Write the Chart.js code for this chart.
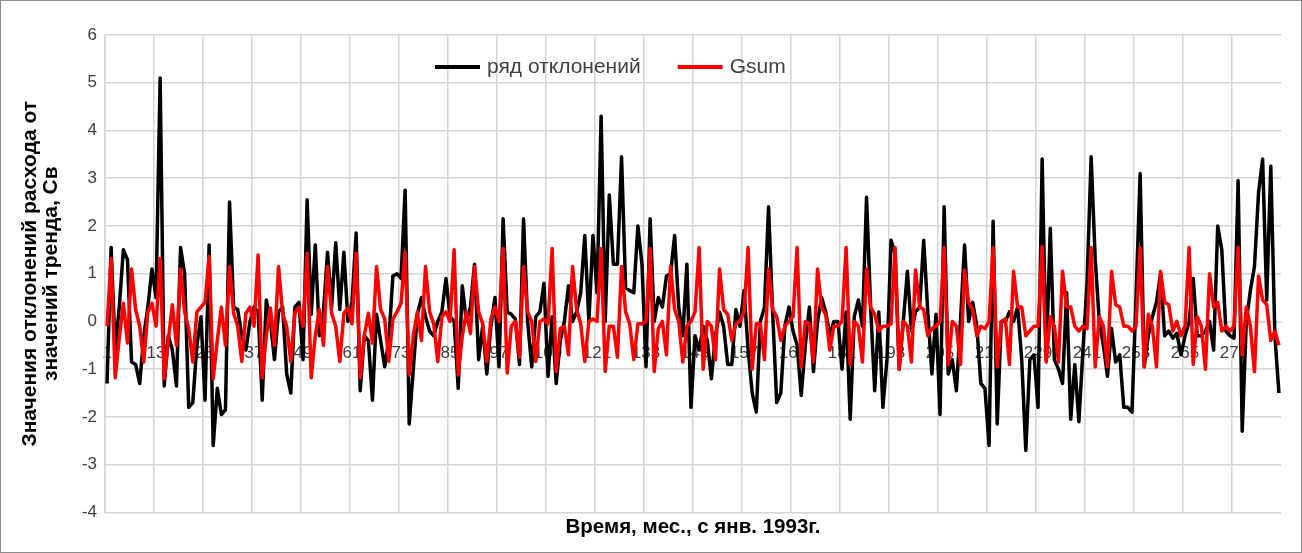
<!DOCTYPE html>
<html lang="ru">
<head>
  <meta charset="UTF-8">
  <title>Ряд отклонений и Gsum</title>
  <script src="https://cdn.jsdelivr.net/npm/chart.js"></script>
  <style>
    body {
      margin: 0;
      background: #fff;
    }
    .chart-box {
      position: relative;
      width: 1302px;
      height: 553px;
      box-sizing: border-box;
      border: 1px solid #8c8c8c;
      background: #fff;
    }
  </style>
</head>
<body>
  <div class="chart-box">
    <canvas id="devChart"></canvas>
  </div>

  <script>
    // months since Jan 1993 (1..288)
    const months = Array.from({ length: 288 }, (_, i) => String(i + 1));
    const labelStep = 12;

    const yTicks = { min: -4, max: 6, step: 1 };

    // ряд отклонений (monthly deviations from trend, Sv)
    const deviations = [
      -1.3, 1.55, -0.6, 0.3, 1.5, 1.3, -0.85, -0.9, -1.3, -0.3, 0.3, 1.1,
      0.5, 5.1, -1.35, -0.3, -0.6, -1.35, 1.55, 1.0, -1.8, -1.7, -0.5, 0.1,
      -1.65, 1.6, -2.6, -1.4, -1.95, -1.85, 2.5, 0.3, 0.25, -0.3, -0.6, 0.0,
      0.3, 0.2, -1.65, 0.45, 0.0, -0.8, 0.2, 0.3, -1.1, -1.5, 0.3, 0.4,
      -0.8, 2.55, 0.15, 1.6, -0.3, 0.2, 1.45, 0.3, 1.65, 0.25, 1.45, 0.0,
      0.4, 1.85, -1.45, -0.3, -0.4, -1.65, 0.15, -0.4, -0.95, -0.4, 0.95, 1.0,
      0.9, 2.75, -2.15, -1.0, 0.15, 0.5, 0.1, -0.2, -0.3, 0.0, 0.2, 0.9,
      0.1, 0.0, -1.4, 0.75, 0.0, 0.3, 1.2, -0.8, -0.1, -1.1, -0.1, 0.5,
      -0.95, 2.15, 0.2, 0.15, 0.05, -0.9, 2.15, 0.0, -0.95, 0.1, 0.2, 0.8,
      -1.15, 0.1, -1.3, -0.4, 0.0, 0.75, 0.0, 0.2, 0.6, 1.8, 0.0, 1.8,
      0.6, 4.3, 0.0, 2.65, 1.2, 1.2, 3.45, 0.7, 0.65, 0.6, 2.0, 1.2,
      -0.95, 2.15, 0.0, 0.5, 0.3, 0.95, 1.0, 1.8, 0.3, -0.3, 1.2, -1.8,
      -0.3, -0.6, -0.1, -0.4, -1.2, -0.3, 0.2, -0.1, -0.9, -0.9, 0.25, -0.1,
      0.65, -0.6, -1.5, -1.9, 0.0, 0.3, 2.4, 0.2, -1.7, -1.5, -0.1, 0.3,
      -0.2, -0.5, -1.55, -0.5, 0.3, -1.05, 0.0, 0.5, 0.2, -0.3, 0.0, 0.0,
      -1.0, 0.2, -2.05, 0.1, 0.45, -0.1, 2.6, 0.3, -1.45, 0.2, -1.8, -0.8,
      1.7, 1.4, -1.0, 0.0, 1.05, -0.2, 0.2, 0.3, 1.7, 0.2, -1.1, 0.15,
      -1.95, 2.4, -1.1, -0.8, -1.45, 0.0, 1.6, 0.0, 0.4, -0.1, -1.3, -1.4,
      -2.6, 2.1, -2.15, 0.0, 0.0, 0.2, 0.0, 0.3, -0.8, -2.7, -0.8, -0.7,
      -1.8, 3.4, -0.8, 1.95, -0.8, -1.0, -1.3, 0.6, -2.05, -0.9, -2.1, -0.6,
      0.8, 3.45, 1.3, 0.0, -0.5, -1.15, -0.15, -0.85, -0.7, -1.8, -1.8, -1.9,
      0.5, 3.1, -0.95, -0.3, 0.1, 0.4, 1.0, -0.3, -0.2, -0.35, -0.25, -0.7,
      -0.3, 0.0, 0.9, -0.3, -0.3, -0.2, 0.0, -0.6, 2.0, 1.5, -0.2, -0.3,
      -0.35, 2.95, -2.3, 0.0, 0.65, 1.15, 2.7, 3.4, 0.45, 3.25, -0.3, -1.5
    ];

    // Gsum
    const gsum = [
      -0.1, 1.32, -1.18, -0.35, 0.38, -0.45, 1.1, 0.25, -0.1, -0.85, 0.2, 0.38,
      -0.1, 1.32, -1.2, -0.4, 0.35, -0.5, 1.1, 0.2, -0.15, -0.85, 0.2, 0.3,
      0.4, 1.36, -1.2, -0.4, 0.3, -0.5, 1.15, 0.17, -0.1, -0.84, 0.17, 0.3,
      -0.1, 1.39, -1.18, -0.3, 0.28, -0.5, 1.15, 0.17, -0.1, -0.84, 0.17, 0.3,
      -0.1, 1.43, -1.18, -0.3, 0.25, -0.5, 1.15, 0.17, -0.1, -0.84, 0.17, 0.28,
      -0.05, 1.43, -1.18, -0.3, 0.17, -0.45, 1.15, 0.25, 0.05, -0.84, 0.05, 0.2,
      0.38, 1.46, -1.12, -0.3, 0.2, -0.4, 1.15, 0.2, -0.05, -0.84, 0.1, 0.2,
      0.0, 1.5, -1.12, -0.3, 0.2, -0.25, 1.15, 0.2, -0.05, -0.84, 0.05, 0.3,
      0.0, 1.53, -1.08, -0.1, 0.0, -0.75, 1.15, 0.2, 0.0, -0.84, 0.0, 0.05,
      -0.05, 1.53, -1.05, -0.15, -0.1, -0.7, 1.15, 0.25, -0.05, -0.84, 0.0, 0.05,
      0.0, 1.53, -1.05, -0.1, -0.1, -0.75, 1.15, 0.2, -0.05, -0.8, -0.05, -0.05,
      0.0, 1.53, -1.05, -0.15, 0.0, -0.7, 1.15, 0.25, 0.0, -0.85, -0.1, 0.0,
      0.2, 1.55, -1.0, 0.0, -0.1, -0.8, 1.1, 0.25, 0.15, -0.4, -0.05, 0.0,
      0.2, 1.55, -1.0, -0.05, -0.05, -0.8, 1.1, 0.25, 0.1, -0.4, -0.1, 0.0,
      0.1, 1.55, -0.95, 0.0, -0.05, -0.85, 1.1, 0.28, 0.15, -0.6, -0.1, -0.1,
      0.0, 1.55, -0.9, 0.0, -0.1, -0.85, 1.1, 0.3, 0.15, -0.2, -0.1, -0.1,
      -0.05, 1.55, -1.0, 0.0, -0.1, -0.85, 1.08, 0.3, 0.25, -0.3, -0.15, -0.1,
      0.0, 1.55, -0.9, 0.0, -0.1, -0.9, 1.08, 0.4, 0.25, -0.3, -0.1, -0.15,
      0.0, 1.55, -0.95, 0.0, 0.05, -0.9, 1.05, 0.3, 0.3, -0.3, -0.2, -0.1,
      -0.1, 1.57, -0.85, 0.1, -0.1, -0.85, 1.05, 0.3, 0.3, -0.1, -0.2, -0.1,
      -0.15, 1.55, -0.95, 0.1, -0.1, -0.95, 1.05, 0.35, 0.3, -0.1, -0.1, -0.2,
      -0.1, 1.55, -0.95, 0.15, -0.1, -0.95, 1.05, 0.4, 0.35, -0.2, 0.0, -0.3,
      -0.1, 1.55, -0.9, 0.1, -0.1, -1.0, 1.0, 0.3, 0.4, -0.2, -0.1, -0.2,
      -0.1, 1.55, -0.7, 0.3, -0.1, -1.05, 0.95, 0.45, 0.35, -0.4, -0.2, -0.5
    ];

    const gridColor = '#d4d4d4';
    const textColor = '#404040';
    const fontFamily = '"Liberation Sans", Arial, sans-serif';

    // Excel-style legend sitting inside the plot area
    const plotLegend = {
      id: 'plotLegend',
      afterDraw(chart) {
        const ctx = chart.ctx;
        ctx.save();
        ctx.font = '21px ' + fontFamily;
        ctx.textBaseline = 'middle';
        let x = 434;
        const y = 66;
        [0, 1].forEach(i => {
          const ds = chart.data.datasets[i];
          ctx.strokeStyle = ds.borderColor;
          ctx.lineWidth = 4;
          ctx.beginPath();
          ctx.moveTo(x, y);
          ctx.lineTo(x + 45, y);
          ctx.stroke();
          ctx.fillStyle = textColor;
          ctx.fillText(ds.label, x + 52, y);
          x += 52 + ctx.measureText(ds.label).width + 37;
        });
        ctx.restore();
      }
    };

    new Chart(document.getElementById('devChart'), {
      type: 'line',
      data: {
        labels: months,
        datasets: [
          {
            label: 'ряд отклонений',
            data: deviations,
            borderColor: '#000000',
            borderWidth: 3.5,
            pointRadius: 0,
            tension: 0,
            borderJoinStyle: 'round',
            order: 2
          },
          {
            label: 'Gsum',
            data: gsum,
            borderColor: '#ff0000',
            borderWidth: 3.5,
            pointRadius: 0,
            tension: 0,
            borderJoinStyle: 'round',
            order: 1
          }
        ]
      },
      options: {
        responsive: true,
        maintainAspectRatio: false,
        animation: false,
        devicePixelRatio: 1,
        layout: {
          padding: { top: 34, right: 10, left: 0, bottom: 0 }
        },
        plugins: {
          legend: { display: false },
          tooltip: { enabled: false },
          title: {
            display: true,
            position: 'bottom',
            fullSize: false,
            text: 'Время, мес., с янв. 1993г.',
            color: '#000',
            font: { family: fontFamily, size: 20.5, weight: 'bold' },
            padding: { top: 3, bottom: 12 }
          }
        },
        scales: {
          x: {
            type: 'category',
            position: { y: 0 },
            offset: true,
            grid: {
              offset: true,
              drawTicks: false,
              lineWidth: 1.5,
              color: ctx => (ctx.index % labelStep === 0 ? gridColor : 'rgba(0,0,0,0)')
            },
            border: { color: gridColor, width: 1.5 },
            ticks: {
              autoSkip: false,
              maxRotation: 0,
              minRotation: 0,
              padding: 22,
              color: textColor,
              font: { family: fontFamily, size: 17 },
              callback: (val, i) => (i % labelStep === 0 ? months[i] : '')
            }
          },
          y: {
            min: yTicks.min,
            max: yTicks.max,
            afterFit: scale => { scale.width = 104; },
            grid: {
              drawTicks: false,
              lineWidth: 1.5,
              color: gridColor
            },
            border: { color: gridColor, width: 1.5 },
            ticks: {
              stepSize: yTicks.step,
              padding: 8,
              color: textColor,
              font: { family: fontFamily, size: 17 }
            },
            title: {
              display: true,
              text: ['Значения отклонений расхода от', 'значений тренда, Св'],
              color: '#000',
              font: { family: fontFamily, size: 21, weight: 'bold', lineHeight: 1.0 },
              padding: { top: 18.5, bottom: 0 }
            }
          }
        }
      },
      plugins: [plotLegend]
    });
  </script>
</body>
</html>
